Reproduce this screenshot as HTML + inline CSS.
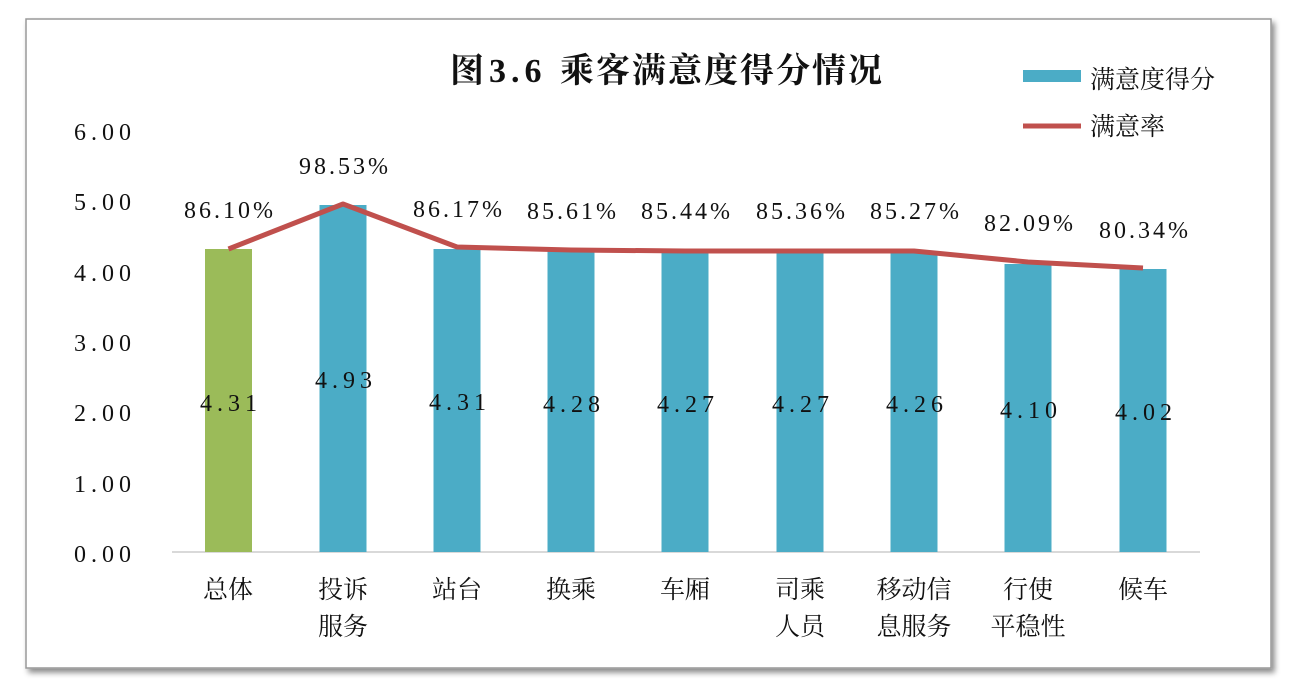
<!DOCTYPE html>
<html><head><meta charset="utf-8"><style>
body{margin:0;background:#fff;width:1296px;height:692px;overflow:hidden}
svg text{font-family:"Liberation Serif","Noto Serif CJK SC",serif;fill:#111}
.n{letter-spacing:3px}
</style></head><body>
<svg width="1296" height="692" xmlns="http://www.w3.org/2000/svg">
<defs><filter id="sh" x="-5%" y="-5%" width="110%" height="115%"><feDropShadow dx="3" dy="4" stdDeviation="3" flood-color="#000" flood-opacity="0.45"/></filter></defs>
<rect x="26" y="19" width="1245" height="649" fill="#fff" stroke="#999" stroke-width="1.5" filter="url(#sh)"/>
<text x="667" y="82" font-size="34" font-weight="bold" text-anchor="middle" letter-spacing="2"><tspan letter-spacing="5">图3.6 </tspan>乘客满意度得分情况</text>
<rect x="1023" y="70" width="58" height="12" fill="#4bacc6"/>
<text x="1090" y="88" font-size="25">满意度得分</text>
<line x1="1023" y1="126" x2="1081" y2="126" stroke="#c0504d" stroke-width="5"/>
<text x="1090" y="135" font-size="25">满意率</text>
<g font-size="24" text-anchor="end" class="n" style="letter-spacing:5px">
<text x="136" y="140">6.00</text><text x="136" y="210">5.00</text><text x="136" y="281">4.00</text>
<text x="136" y="351">3.00</text><text x="136" y="421">2.00</text><text x="136" y="492">1.00</text><text x="136" y="562">0.00</text>
</g>
<line x1="172" y1="552" x2="1200" y2="552" stroke="#d9d9d9" stroke-width="2"/>
<g>
<rect x="205" y="249" width="47" height="303" fill="#9bbb59"/>
<rect x="319.5" y="205" width="47" height="347" fill="#4bacc6"/>
<rect x="433.5" y="249" width="47" height="303" fill="#4bacc6"/>
<rect x="547.5" y="251" width="47" height="301" fill="#4bacc6"/>
<rect x="661.5" y="252" width="47" height="300" fill="#4bacc6"/>
<rect x="776.5" y="252" width="47" height="300" fill="#4bacc6"/>
<rect x="890.5" y="252" width="47" height="300" fill="#4bacc6"/>
<rect x="1004.5" y="264" width="47" height="288" fill="#4bacc6"/>
<rect x="1119.5" y="269" width="47" height="283" fill="#4bacc6"/>
</g>
<polyline points="228.5,249 343,204 457,247 571,250 685,251 800,251 914,251 1028,262 1143,268" fill="none" stroke="#c0504d" stroke-width="5" stroke-linejoin="round"/>
<g font-size="24" text-anchor="middle" class="n">
<text x="230" y="218">86.10%</text><text x="345" y="174">98.53%</text><text x="459" y="217">86.17%</text>
<text x="573" y="219">85.61%</text><text x="687" y="219">85.44%</text><text x="802" y="219">85.36%</text>
<text x="916" y="219">85.27%</text><text x="1030" y="231">82.09%</text><text x="1145" y="238">80.34%</text>
<g style="letter-spacing:5px">
<text x="231" y="411">4.31</text><text x="346" y="388">4.93</text><text x="460" y="410">4.31</text>
<text x="574" y="412">4.28</text><text x="688" y="412">4.27</text><text x="803" y="412">4.27</text>
<text x="917" y="412">4.26</text><text x="1031" y="418">4.10</text><text x="1146" y="420">4.02</text>
</g>
</g>
<g font-size="25" text-anchor="middle">
<text x="228" y="598">总体</text>
<text x="343" y="598">投诉</text><text x="343" y="635">服务</text>
<text x="457" y="598">站台</text>
<text x="571" y="598">换乘</text>
<text x="685" y="598">车厢</text>
<text x="800" y="598">司乘</text><text x="800" y="635">人员</text>
<text x="914" y="598">移动信</text><text x="914" y="635">息服务</text>
<text x="1028" y="598">行使</text><text x="1028" y="635">平稳性</text>
<text x="1143" y="598">候车</text>
</g>
</svg>
</body></html>
